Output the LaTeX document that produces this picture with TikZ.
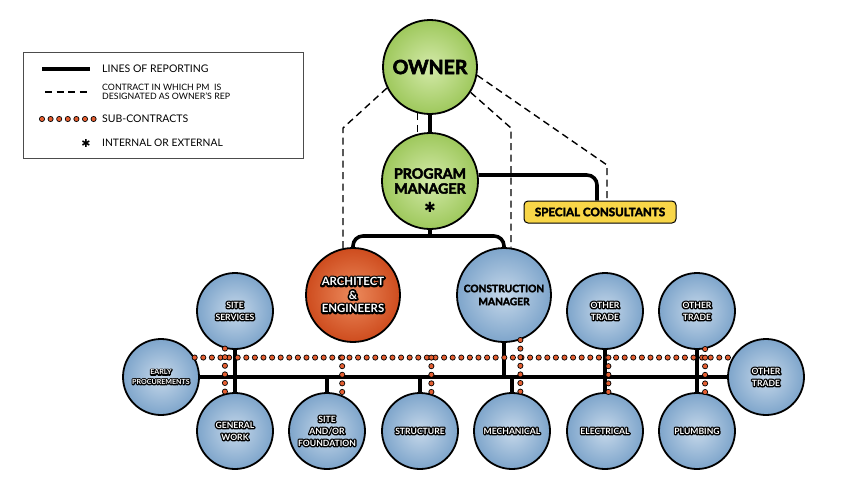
\documentclass[tikz,border=0pt]{standalone}
\usepackage{fontspec}
\setmainfont{Lato}
\newfontfamily\heavyfont[BoldFeatures={FakeBold=3}]{Lato}
\newfontfamily\haloface[BoldFeatures={FakeBold=30}]{Lato}
\newfontfamily\symfont{DejaVu Sans}

\definecolor{leafgreen}{RGB}{158,200,92}
\definecolor{paleleaf}{RGB}{212,234,170}
\definecolor{cmblue}{RGB}{126,165,203}
\definecolor{paleblue}{RGB}{198,216,234}
\definecolor{brick}{RGB}{206,76,30}
\definecolor{palebrick}{RGB}{236,138,92}
\definecolor{consultyellow}{RGB}{248,214,72}
\definecolor{dotorange}{RGB}{228,95,50}

% white letters on a black halo (round joins keep the halo smooth)
\newcommand{\outl}[1]{\leavevmode\special{pdf:literal direct 1 j}\rlap{\color{black}\haloface\bfseries #1}#1}

\begin{document}
\begin{tikzpicture}[x=1pt,y=-1pt,
    disc/.style={circle, draw=black, line width=1.8pt, align=center, inner sep=0pt},
    topdisc/.style={disc, minimum size=94pt, inner color=paleleaf, outer color=leafgreen},
    bigdisc/.style={disc, minimum size=94pt, inner color=paleblue, outer color=cmblue,
        font=\heavyfont\bfseries\fontsize{10.2}{13}\selectfont},
    smalldisc/.style={disc, minimum size=76pt, inner color=paleblue, outer color=cmblue,
        text=white, font=\bfseries\fontsize{8.6}{12}\selectfont},
    report/.style={line width=3.6pt},
    contract/.style={line width=1.4pt, dash pattern=on 7pt off 4.5pt},
    subdots/.style={dotorange, line width=4.2pt, line cap=round, dash pattern=on 0pt off 8.6pt,
        preaction={draw=black, line width=6pt, line cap=round, dash pattern=on 0pt off 8.6pt}},
    legendtext/.style={anchor=west, inner sep=0pt, align=left}
]

    \useasboundingbox (0,0) rectangle (844,488);

    % Legend
    \draw[black!70, line width=0.8pt] (23,52) rectangle (303,158);
    \node[legendtext, font=\fontsize{10.5}{11}\selectfont] (lgreport) at (102,69) {LINES OF REPORTING};
    \node[legendtext, font=\fontsize{8.8}{9.5}\selectfont] (lgcontract) at (102,92)
        {CONTRACT IN WHICH PM\ \ IS\\DESIGNATED AS OWNER'S REP};
    \node[legendtext, font=\fontsize{10.5}{11}\selectfont] (lgsub) at (102,119) {SUB-CONTRACTS};
    \node[legendtext, font=\fontsize{10.3}{11}\selectfont] (lgstar) at (102,143) {INTERNAL OR EXTERNAL};
    \node[font=\symfont\fontsize{11}{11}\selectfont] (lgstarsym) at (86,143) {✱};
    \draw[report] ([xshift=-60pt]lgreport.west) -- ++(48,0);
    \draw[contract] ([xshift=-57pt]lgcontract.west) -- ++(44,0);
    \draw[subdots] ([xshift=-60pt]lgsub.west) -- ++(51.6,0);

    % Owner and program manager
    \node[topdisc, font=\heavyfont\bfseries\fontsize{19.5}{20}\selectfont] (owner) at (430,67) {OWNER};
    \node[topdisc, minimum size=96pt, font=\heavyfont\bfseries\fontsize{14.2}{15}\selectfont] (pm)
        at (430,181) {PROGRAM\\MANAGER};
    \node[font=\symfont\fontsize{14}{14}\selectfont] (pmstar) at (430,207) {✱};
    \node[draw=black, line width=1pt, rounded corners=4pt, fill=consultyellow,
        minimum width=152pt, minimum height=22pt, inner xsep=2pt,
        font=\heavyfont\bfseries\fontsize{11.6}{12}\selectfont] (sc) at (600,212) {SPECIAL CONSULTANTS};

    % Architect and construction manager
    \node[disc, minimum size=94pt, inner color=palebrick, outer color=brick, text=white,
        font=\bfseries\fontsize{11.4}{13.5}\selectfont] (arch) at (353,295)
        {\outl{ARCHITECT}\\\outl{\&}\\\outl{ENGINEERS}};
    \node[bigdisc] (cm) at (504,295) {CONSTRUCTION\\MANAGER};

    % Trades
    \node[smalldisc] (ss) at (235,311) {\outl{SITE}\\\outl{SERVICES}};
    \node[smalldisc, font=\bfseries\fontsize{7.1}{9.5}\selectfont] (ep) at (161,377)
        {\outl{EARLY}\\\outl{PROCUREMENTS}};
    \node[smalldisc] (gw) at (235,431) {\outl{GENERAL}\\\outl{WORK}};
    \node[smalldisc] (sf) at (327,431) {\outl{SITE}\\\outl{AND/OR}\\\outl{FOUNDATION}};
    \node[smalldisc] (st) at (420,431) {\outl{STRUCTURE}};
    \node[smalldisc] (mech) at (512,431) {\outl{MECHANICAL}};
    \node[smalldisc] (el) at (605,431) {\outl{ELECTRICAL}};
    \node[smalldisc] (pl) at (697,431) {\outl{PLUMBING}};
    \node[smalldisc] (ot1) at (605,311) {\outl{OTHER}\\\outl{TRADE}};
    \node[smalldisc] (ot2) at (697,311) {\outl{OTHER}\\\outl{TRADE}};
    \node[smalldisc] (ot3) at (766,377) {\outl{OTHER}\\\outl{TRADE}};

    % Lines of reporting
    \coordinate (pmfork) at (430,236);
    \draw[report] (owner) -- (pm);
    \draw[report] (pm.south) -- (pmfork);
    \draw[report, rounded corners=10pt] (arch.north) |- (pmfork) -| (cm.north);
    \draw[report, rounded corners=10pt] (pm.7) -| ([xshift=-3pt]sc.north);
    \draw[report] (ep) -- (ot3);
    \draw[report] (ss) -- (gw);
    \draw[report] (sf.north) -- (sf.north |- ep.east);
    \draw[report] (st.north) -- (st.north |- ep.east);
    \draw[report] (cm.south) -- (cm.south |- ep.east);
    \draw[report] (mech.north) -- (mech.north |- ep.east);
    \draw[report] (ot1) -- (el);
    \draw[report] (ot2) -- (pl);

    % Contracts
    \coordinate (lbend) at (343,128);
    \coordinate (rbend) at (511,128);
    \coordinate (scbend) at (607,165);
    \draw[contract] (owner.206) -- (lbend) -- (lbend |- arch.102);
    \draw[contract] (owner.-32) -- (rbend) -- (rbend |- cm.81);
    \draw[contract] (owner.255) -- (owner.255 |- pm.105);
    \draw[contract] (owner.-10) -- (scbend) -- (scbend |- sc.north);

    % Sub-contracts
    \draw[subdots] (ep.30) -- (ot3.150);
    \draw[subdots] (ss.255) -- (gw.105);
    \draw[subdots] (sf.67 |- ep.30) -- (sf.67);
    \draw[subdots] (st.73 |- ep.30) -- (st.73);
    \draw[subdots] (cm.290) -- (cm.290 |- mech.78);
    \draw[subdots] (el.85 |- ep.30) -- (el.85);
    \draw[subdots] (ot2.282) -- (ot2.282 |- pl.78);

\end{tikzpicture}
\end{document}
